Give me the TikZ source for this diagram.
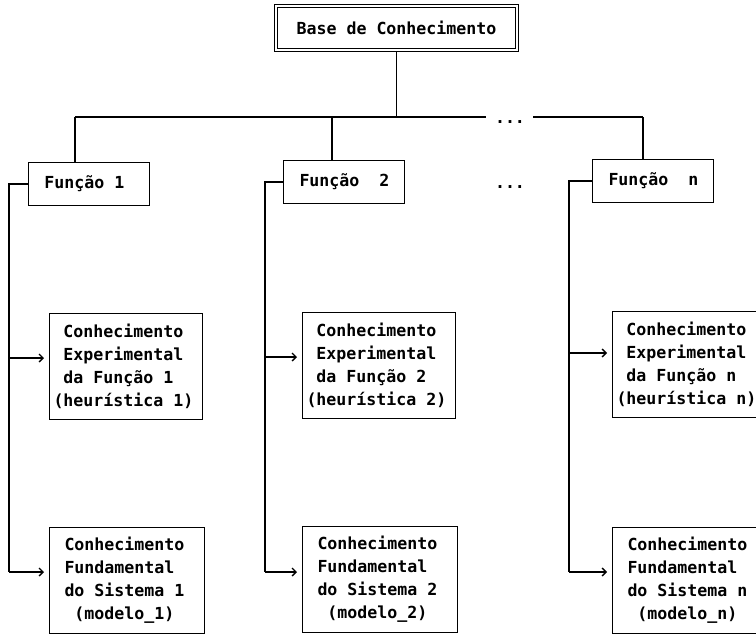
\documentclass[tikz,border=0pt]{standalone}
\usepackage{fontspec}
\newfontfamily\termfont{DejaVu Sans Mono}
\usetikzlibrary{arrows.meta}
% monospaced text; \tsp is a blank exactly one character wide
\newcommand\termtext{\termfont\bfseries\fontsize{16.6}{23}\selectfont}
\newcommand\tsp{\hspace*{\fontcharwd\font`0}}
\begin{document}
\begin{tikzpicture}[x=1pt,y=-1pt,
  every node/.style={font=\termtext},
  line/.style={line width=1.2pt},
  arr/.style={line width=1.1pt, -{Straight Barb[length=4pt,width=8pt,line width=1.3pt]}, shorten >=5pt},
  boxline/.style={draw, line width=1pt, rectangle, anchor=north west},
  topbox/.style={draw, rectangle, anchor=north west, line width=1pt,
    minimum width=244pt, minimum height=47pt},
  funcbox/.style={boxline, minimum width=121pt, minimum height=43pt,
    inner xsep=16pt, text width=89pt, align=left},
  expbox/.style={boxline, minimum width=153pt, minimum height=106pt,
    inner xsep=4pt, text width=145pt, align=left},
  fundbox/.style={boxline, minimum width=155pt, minimum height=106pt,
    inner xsep=15pt, text width=125pt, align=left},
  dots/.style={inner sep=0pt}
]
\useasboundingbox (0,0) rectangle (756,637);
\clip (0,0) rectangle (756,637);

% root, with a double frame
\node[topbox] (base) at (274,4) {Base\tsp de\tsp Conhecimento};
\draw[line width=0.9pt] ([shift={(3.5pt,-3.5pt)}]base.north west)
  rectangle ([shift={(-3.5pt,3.5pt)}]base.south east);

% functions
\node[funcbox] (f1) at (28,162) {Função\tsp 1};
\node[funcbox] (f2) at (283,160) {Função\tsp\tsp 2};
\node[funcbox] (fn) at (592,159) {Função\tsp\tsp n};

% experimental knowledge
\node[expbox] (e1) at (49,313) {\tsp Conhecimento\\\tsp Experimental\\\tsp da\tsp Função\tsp 1\\(heurística\tsp 1)};
\node[expbox] (e2) at (302,312) {\tsp Conhecimento\\\tsp Experimental\\\tsp da\tsp Função\tsp 2\\(heurística\tsp 2)};
\node[expbox] (en) at (612,311) {\tsp Conhecimento\\\tsp Experimental\\\tsp da\tsp Função\tsp n\\(heurística\tsp n)};

% fundamental knowledge
\node[fundbox] (g1) at (49,527) {Conhecimento\\Fundamental\\do\tsp Sistema\tsp 1\\\tsp (modelo\_1)};
\node[fundbox] (g2) at (302,526) {Conhecimento\\Fundamental\\do\tsp Sistema\tsp 2\\\tsp (modelo\_2)};
\node[fundbox] (gn) at (612,527) {Conhecimento\\Fundamental\\do\tsp Sistema\tsp n\\\tsp (modelo\_n)};

% ellipses for the omitted functions
\node[dots] (d1) at (510,122) {...};
\node[dots] (d2) at (510,187) {...};

% bus under the root
\coordinate (b1) at (75,117);
\coordinate (b2) at (332,117);
\coordinate (bgap1) at (486,117);
\coordinate (bgap2) at (533,117);
\coordinate (bn) at (643,117);

\draw[line] (base.south) -- (base.south |- b1);
\draw[line] (b1) -- (bgap1);
\draw[line] (bgap2) -- (bn);
\draw[line] (b1) -- (b1 |- f1.north);
\draw[line] (b2) -- (b2 |- f2.north);
\draw[line] (bn) -- (bn |- fn.north);

% feeders to the knowledge boxes
\coordinate (c1) at (9,572);
\coordinate (c2) at (265,572);
\coordinate (cn) at (569,572);
\coordinate (x1) at (9,358);
\coordinate (x2) at (265,357);
\coordinate (xn) at (569,353);

\draw[line] (f1.west) -| (c1);
\draw[line] (f2.west) -| (c2);
\draw[line] (fn.west) -| (cn);

\draw[arr] (x1) -- (x1 -| e1.west);
\draw[arr] (x2) -- (x2 -| e2.west);
\draw[arr] (xn) -- (xn -| en.west);
\draw[arr] (c1) -- (c1 -| g1.west);
\draw[arr] (c2) -- (c2 -| g2.west);
\draw[arr] (cn) -- (cn -| gn.west);
\end{tikzpicture}
\end{document}
